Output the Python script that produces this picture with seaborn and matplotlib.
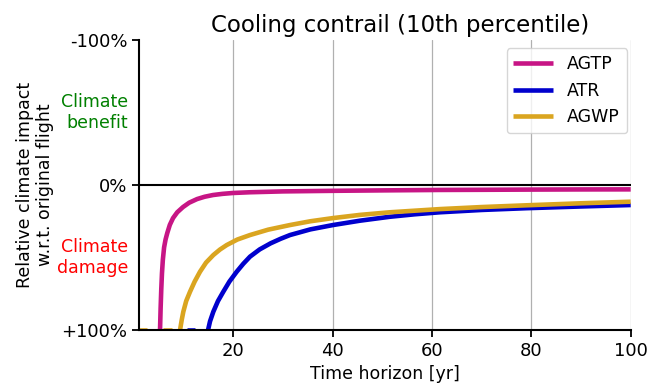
import numpy as np
import pandas as pd
import matplotlib
matplotlib.use("Agg")
import matplotlib.pyplot as plt
import seaborn as sns

# values (time horizon in years, relative impact in %)
agtp_x = [5.23, 5.35, 5.48, 5.62, 5.8, 6.05, 6.35, 6.7, 7.2, 7.85, 8.7, 9.86,
          11.1, 12.68, 14.2, 15.9, 17.8, 19.9, 23.3, 30, 40, 50, 61.6, 70, 80, 90, 100]
agtp_y = [100, 85, 72, 61, 51.5, 43, 37.5, 33, 27.5, 22.8, 18.8, 15.2,
          12.2, 9.7, 8.1, 6.9, 6.1, 5.5, 5.0, 4.4, 4.0, 3.7, 3.4, 3.3, 3.15, 3.05, 3.0]

atr_x = [14.9, 15.3, 15.96, 16.9, 17.97, 19.2, 20.67, 22.0, 23.35, 25.3, 27.5,
         29.5, 31.4, 35.5, 40.06, 45.5, 51.5, 56.5, 61.6, 70, 78.9, 90, 100]
atr_y = [100, 94, 87.4, 80, 73.6, 66.6, 59.8, 54.3, 49.4, 44.4, 40.2,
         37.1, 34.5, 30.6, 27.6, 24.6, 21.9, 20.2, 18.8, 17.2, 16.0, 14.8, 13.8]

agwp_x = [9.26, 9.6, 9.92, 10.5, 11.27, 12.2, 13.28, 14.5, 15.96, 17.3, 18.66,
          20.8, 23.35, 27, 31.4, 35.5, 40.06, 45.5, 51.5, 61.6, 70, 78.9, 90, 100]
agwp_y = [100, 93, 87.4, 80, 73.6, 66.6, 59.8, 53.5, 48.3, 44.5, 41.4,
          37.6, 34.5, 30.8, 27.6, 25.0, 22.8, 20.6, 18.8, 16.6, 15.2, 14.0, 12.6, 11.5]

# short stretches pinned at +100% before the curves start
agwp_flat = [(1.0, 2.6), (5.9, 7.6)]
atr_flat = [(10.7, 12.3)]

metrics = ["AGTP", "ATR", "AGWP"]
colors = ["mediumvioletred", "mediumblue", "goldenrod"]

rows = []
def add(metric, seg, xs, ys):
    for x, y in zip(xs, ys):
        rows.append({"time": x, "impact": y, "metric": metric, "seg": seg})

add("AGTP", "agtp_main", agtp_x, agtp_y)
add("ATR", "atr_main", atr_x, atr_y)
add("AGWP", "agwp_main", agwp_x, agwp_y)
for i, (a, b) in enumerate(atr_flat):
    add("ATR", f"atr_flat{i}", [a, b], [100, 100])
for i, (a, b) in enumerate(agwp_flat):
    add("AGWP", f"agwp_flat{i}", [a, b], [100, 100])
df = pd.DataFrame(rows)

sns.set_style("ticks")
plt.rcParams.update({"text.color": "black", "axes.labelcolor": "black",
                     "xtick.color": "black", "ytick.color": "black"})

fig = plt.figure(figsize=(6.49, 3.9), dpi=100)
ax = fig.add_axes([0.2142, 0.1538, 0.7576, 0.7436])

ax.grid(axis="x", color="#b0b0b0", lw=0.9, zorder=0)
ax.axhline(0, color="black", lw=1.5, zorder=1)

sns.lineplot(data=df, x="time", y="impact", hue="metric", units="seg",
             estimator=None, hue_order=metrics, palette=colors, lw=3.3,
             solid_capstyle="butt", solid_joinstyle="round", ax=ax)

ax.set_xlim(1, 100)
ax.set_ylim(100, -100)
ax.set_xticks([20, 40, 60, 80, 100])
ax.set_yticks([-100, 0, 100])
ax.set_yticklabels(["-100%", "0%", "+100%"])
ax.tick_params(labelsize=13, length=5, width=1.3)

for s in ["top", "right"]:
    ax.spines[s].set_visible(False)
for s in ["left", "bottom"]:
    ax.spines[s].set_linewidth(1.5)
    ax.spines[s].set_color("black")

ax.set_xlabel("Time horizon [yr]", fontsize=12.5)
ax.set_ylabel("Relative climate impact\nw.r.t. original flight", fontsize=12.5)
ax.yaxis.set_label_coords(-0.172, 0.5)
ax.set_title("Cooling contrail (10th percentile)", fontsize=16.5, x=0.532)

tr = ax.get_yaxis_transform()
ax.text(-0.022, -50, "Climate\nbenefit", transform=tr, ha="right", va="center",
        color="green", fontsize=12.5)
ax.text(-0.022, 50, "Climate\ndamage", transform=tr, ha="right", va="center",
        color="red", fontsize=12.5)

handles, labels = ax.get_legend_handles_labels()
ax.legend(handles, labels, loc="upper right", fontsize=12.5, handlelength=2.3,
          bbox_to_anchor=(0.9925, 0.972), borderaxespad=0)

fig.savefig("out.png", dpi=100)
